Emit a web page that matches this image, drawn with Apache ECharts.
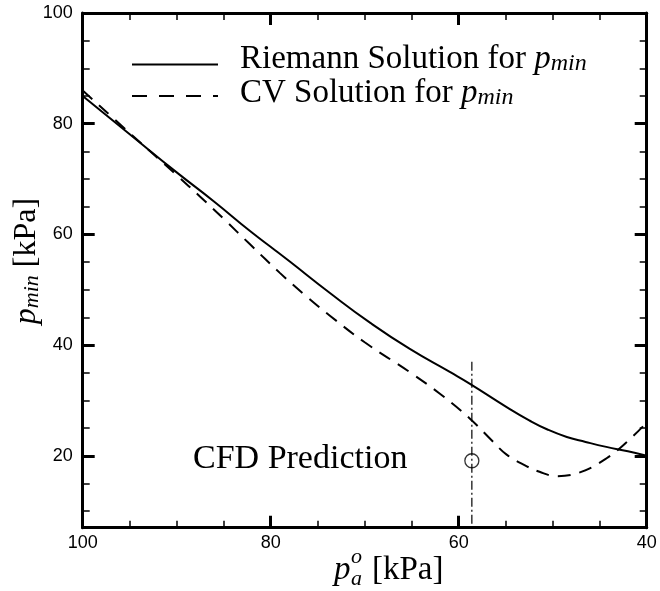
<!DOCTYPE html>
<html><head><meta charset="utf-8">
<script src="https://cdn.jsdelivr.net/npm/echarts@6/dist/echarts.min.js"></script>
<style>html,body{margin:0;padding:0;background:#fff}#c{width:660px;height:591px}</style>
</head><body><div id="c"></div>
<script>
// ---- data ----
const riemannX = [100, 95, 90, 86, 82.2, 79.5, 77.9, 73.7, 69.4, 65.2, 60.9, 58.8, 54.9, 52.5, 50.5, 48.5, 46.5, 44.3, 42, 40];
const riemannY = [85.0, 78.1, 71.2, 65.9, 60.6, 57.1, 55.0, 49.4, 44.0, 39.3, 35.1, 33.0, 28.8, 26.4, 24.7, 23.4, 22.5, 21.6, 20.8, 20.0];
const cvX = [100, 95, 90, 87.5, 85, 82.2, 79, 76, 73.7, 70, 65.2, 62, 58.8, 56.5, 54.9, 53, 51.4, 49.6, 47.1, 44.3, 42.1, 40];
const cvY = [86.0, 78.3, 70.7, 66.8, 62.8, 58.2, 53.0, 48.5, 45.3, 40.5, 35.1, 31.2, 26.7, 22.8, 20.2, 18.3, 17.1, 16.3, 17.0, 19.5, 22.5, 26.0];
const cfdX = [58.6];
const cfdY = [19.1];
const cfdLineX = [58.6, 58.6];
const cfdLineY = [37, 7];
const yMajorTicks = [20, 40, 60, 80, 100];
const yMinorTicks = [10, 15, 25, 30, 35, 45, 50, 55, 65, 70, 75, 85, 90, 95];
const legendNames = ['Riemann Solution for ', 'CV Solution for '];

const zip = (xs, ys) => xs.map((x, i) => [x, ys[i]]);
const SERIF = '"Liberation Serif", "Times New Roman", serif';
const SANS = '"Liberation Sans", Arial, sans-serif';

const axisLine = { show: true, lineStyle: { color: '#000', width: 3 } };
function xAx(pos, showLabel) {
  return {
    type: 'value', position: pos, inverse: true, min: 40, max: 100, interval: 20,
    axisLine: axisLine,
    axisTick: { show: true, inside: true, length: 12, lineStyle: { color: '#000', width: 3 } },
    minorTick: { show: true, splitNumber: 4, length: 7, lineStyle: { color: '#000', width: 1.5 } },
    splitLine: { show: false }, minorSplitLine: { show: false },
    axisLabel: { show: showLabel, color: '#000', fontSize: 18, fontFamily: SANS, margin: 6 }
  };
}
function yAx(pos, ticks, major, showLabel) {
  return {
    type: 'value', position: pos, min: 7, max: 100,
    axisLine: major ? axisLine : { show: false },
    axisTick: { show: true, inside: true, length: major ? 12 : 7, customValues: ticks,
      lineStyle: { color: '#000', width: major ? 3 : 1.5 } },
    splitLine: { show: false },
    axisLabel: { show: showLabel, customValues: ticks, color: '#000', fontSize: 18, fontFamily: SANS, margin: 10 }
  };
}

const richBase = {
  n: { fontFamily: SERIF, fontSize: 33, color: '#000' },
  i: { fontFamily: SERIF, fontSize: 33, fontStyle: 'italic', color: '#000' },
  s: { fontFamily: SERIF, fontSize: 24, fontStyle: 'italic', color: '#000', verticalAlign: 'bottom', lineHeight: 4 }
};

const chart = echarts.init(document.getElementById('c'), null, { renderer: 'canvas' });
chart.setOption({
  animation: false,
  backgroundColor: '#fff',
  grid: { left: 82.7, right: 13.3, top: 13, bottom: 63.3, containLabel: false },
  xAxis: [xAx('bottom', true), xAx('top', false)],
  yAxis: [
    yAx('left', yMajorTicks, true, true),
    yAx('left', yMinorTicks, false, false),
    yAx('right', yMajorTicks, true, false),
    yAx('right', yMinorTicks, false, false)
  ],
  series: [
    { name: 'Riemann', type: 'line', data: zip(riemannX, riemannY), symbol: 'none', smooth: 0.5,
      lineStyle: { color: '#000', width: 2 } },
    { name: 'CV', type: 'line', data: zip(cvX, cvY), symbol: 'none', smooth: 0.4,
      lineStyle: { color: '#000', width: 2, type: [13, 9] } },
    { name: 'CFD line', type: 'line', data: zip(cfdLineX, cfdLineY), symbol: 'none',
      lineStyle: { color: '#000', width: 1.2, type: [9, 3, 2, 3] } },
    { name: 'CFD', type: 'scatter', data: zip(cfdX, cfdY), symbol: 'circle', symbolSize: 14,
      itemStyle: { color: 'rgba(0,0,0,0)', borderColor: '#000', borderWidth: 1.3 } }
  ],
  graphic: [
    { type: 'line', shape: { x1: 132, y1: 64.5, x2: 218, y2: 64.5 }, style: { stroke: '#000', lineWidth: 2 } },
    { type: 'line', shape: { x1: 132, y1: 96, x2: 218, y2: 96 }, style: { stroke: '#000', lineWidth: 2, lineDash: [15, 12] } },
    { type: 'text', x: 240, y: 59.5, style: { text: '{n|' + legendNames[0] + '}{i|p}{s|min}', rich: richBase,
      align: 'left', textAlign: 'left', verticalAlign: 'middle', textVerticalAlign: 'middle' } },
    { type: 'text', x: 240, y: 93.5, style: { text: '{n|' + legendNames[1] + '}{i|p}{s|min}', rich: richBase,
      align: 'left', textAlign: 'left', verticalAlign: 'middle', textVerticalAlign: 'middle' } },
    { type: 'text', x: 193, y: 459, style: { text: 'CFD Prediction', fontFamily: SERIF, fontSize: 34, fill: '#000',
      align: 'left', textAlign: 'left', verticalAlign: 'middle', textVerticalAlign: 'middle' } },
    // x axis title
    { type: 'text', x: 334, y: 570, style: { text: 'p', fontFamily: SERIF, fontSize: 33, fontStyle: 'italic', fill: '#000',
      align: 'left', verticalAlign: 'middle' } },
    { type: 'text', x: 351, y: 557, style: { text: 'o', fontFamily: SERIF, fontSize: 22, fontStyle: 'italic', fill: '#000',
      align: 'left', verticalAlign: 'middle' } },
    { type: 'text', x: 351, y: 579, style: { text: 'a', fontFamily: SERIF, fontSize: 22, fontStyle: 'italic', fill: '#000',
      align: 'left', verticalAlign: 'middle' } },
    { type: 'text', x: 372, y: 570, style: { text: '[kPa]', fontFamily: SERIF, fontSize: 33, fill: '#000',
      align: 'left', verticalAlign: 'middle' } },
    // y axis title
    { type: 'text', x: 27, y: 261, rotation: Math.PI / 2, style: {
      text: '{i|p}{s|min}{n| [kPa]}', rich: {
        n: { fontFamily: SERIF, fontSize: 32, color: '#000' },
        i: { fontFamily: SERIF, fontSize: 32, fontStyle: 'italic', color: '#000' },
        s: { fontFamily: SERIF, fontSize: 22, fontStyle: 'italic', color: '#000', verticalAlign: 'bottom', lineHeight: 4 }
      }, align: 'center', textAlign: 'center', verticalAlign: 'middle', textVerticalAlign: 'middle' } }
  ]
});
</script></body></html>
